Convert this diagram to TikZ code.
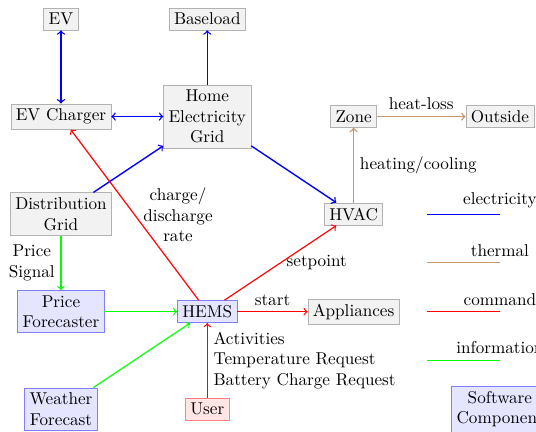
\documentclass[tikz,border=0pt]{standalone}
\usepackage{xcolor}
\usepackage{tikz}
\usetikzlibrary{shapes,positioning}
\definecolor{thermcol}{RGB}{200,150,105}
\tikzset{comp/.style={rectangle,draw=gray!60,fill=gray!10,align=center,inner sep=0.1cm},
  soft/.style={rectangle,draw=blue!50,fill=blue!10,align=center,inner sep=0.1cm},
  usr/.style={rectangle,draw=red!50,fill=red!10,align=center,inner sep=0.1cm},
  elec/.style={draw=blue,thick},
  therm/.style={draw=thermcol,thick},
  cmd/.style={draw=red,line width=0.7pt},
  info/.style={draw=green,line width=0.7pt}}

\begin{document}
\begin{tikzpicture}[>=to]
    \useasboundingbox (-1.25,0.39) rectangle (9.74,-8.45);
    \node[comp] (ev) at (0,0) {EV};
    \node[comp] (base) at (3,0) {Baseload};
    \node[comp] (evc) at (0,-2) {EV Charger};
    \node[comp] (heg) at (3,-2) {Home\\Electricity\\Grid};
    \node[comp] (zone) at (6,-2) {Zone};
    \node[comp] (out) at (9,-2) {Outside};
    \node[comp] (dg) at (0,-4) {Distribution\\Grid};
    \node[comp] (hvac) at (6,-4) {HVAC};
    \node[soft] (pf) at (0,-6) {Price\\Forecaster};
    \node[soft] (hems) at (3,-6) {HEMS};
    \node[comp] (app) at (6,-6) {Appliances};
    \node[soft] (wf) at (0,-8) {Weather\\Forecast};
    \node[usr] (user) at (3,-8) {User};

    \draw [elec,<->] (ev) to (evc);
    \draw [elec,<->] (evc) to (heg);
    \draw [elec,->] (heg) to (base);
    \draw [elec,->] (dg) to (heg);
    \draw [elec,->] (heg) to (hvac);
    \draw [therm,->] (hvac) to node[right]{heating/cooling} (zone);
    \draw [therm,->] (zone) to node[above]{heat-loss} (out);
    \draw [info,->] (dg) to node[left,align=center]{Price\\Signal} (pf);
    \draw [info,->] (pf) to (hems);
    \draw [info,->] (wf) to (hems);
    \draw [cmd,->] (user) to node[right,align=left]{Activities\\Temperature Request\\Battery Charge Request} (hems);
    \draw [cmd,->] (hems) to node[right,align=center,xshift=0.05cm]{charge/\\discharge\\rate} (evc);
    \draw [cmd,->] (hems) to node[right]{setpoint} (hvac);
    \draw [cmd,->] (hems) to node[above]{start} (app);

    % legend
    \coordinate (l1) at (7.5,-4); \coordinate (r1) at (9,-4);
    \coordinate (l2) at (7.5,-5); \coordinate (r2) at (9,-5);
    \coordinate (l3) at (7.5,-6); \coordinate (r3) at (9,-6);
    \coordinate (l4) at (7.5,-7); \coordinate (r4) at (9,-7);
    \draw [draw=blue,line width=0.7pt] (l1) to (r1) node[above]{electricity};
    \draw [draw=thermcol,line width=0.7pt] (l2) to (r2) node[above]{thermal};
    \draw [draw=red,line width=0.7pt] (l3) to (r3) node[above]{command};
    \draw [draw=green,line width=0.7pt] (l4) to (r4) node[above]{information};
    \node[soft] (sw) at (9,-8) {Software\\Component};
\end{tikzpicture}
\end{document}
